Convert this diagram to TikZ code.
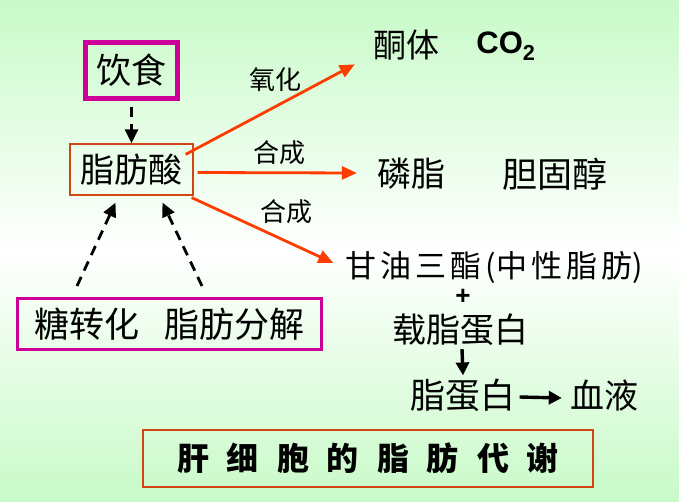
\documentclass[tikz,border=0pt]{standalone}
\usepackage{fontspec}
\newfontfamily\cjk{Noto Sans CJK SC}
\newfontfamily\lsans{Liberation Sans}
\usetikzlibrary{arrows.meta,calc}
\definecolor{bggreen}{RGB}{200,250,200}
\definecolor{mag}{RGB}{204,0,153}
\definecolor{redline}{RGB}{255,60,0}
\definecolor{boxred}{RGB}{210,70,20}
\newcommand\kgap{\hspace{4pt}}
\newcommand\tgap{\hspace{18pt}}
\tikzset{
  fs/.style={font=\cjk\fontsize{#1}{#1}\selectfont},
  plain/.style={inner sep=0pt},
  redarrow/.style={draw=redline, line width=2.8pt, -{Triangle[length=15pt,width=13pt]}},
  dasharrow/.style={draw=black, line width=2.8pt, dash pattern=on 10pt off 7pt, -{Triangle[length=14pt,width=13pt]}},
  blackarrow/.style={draw=black, line width=3.4pt, -{Triangle[length=13pt,width=13pt]}}
}
\begin{document}
\begin{tikzpicture}[x=1pt,y=-1pt]
\shade[top color=bggreen, bottom color=bggreen, middle color=white] (0,0) rectangle (679,502);
\useasboundingbox (0,0) rectangle (679,502);

% boxes
\node[draw=mag, line width=5pt, minimum width=92pt, minimum height=56pt, inner sep=0pt, fs=35] (diet) at (131.5,70.5) {饮食};
\node[draw=boxred, line width=1.2pt, minimum width=123pt, minimum height=51pt, inner sep=0pt, fs=34] (fa) at (131.5,169.5) {脂肪酸};
\node[draw=mag, line width=3pt, minimum width=304pt, minimum height=51pt, inner sep=0pt, fs=35] (src) at (169.5,324) {糖转化\hspace{26pt}脂肪分解};
\node[draw=boxred, line width=1.2pt, minimum width=450pt, minimum height=57pt, inner sep=0pt, font=\cjk\bfseries\fontsize{32}{32}\selectfont] (title) at (368,458.5)
  {肝\tgap 细\tgap 胞\tgap 的\tgap 脂\tgap 肪\tgap 代\tgap 谢};

% products
\node[plain, fs=33] (ketone) at (406,45) {酮体};
\node[plain, font=\lsans\bfseries\fontsize{31}{31}\selectfont] (co2) at (506,46) {CO\textsubscript{2}};
\node[plain, fs=34] (phos) at (411,174) {磷脂};
\node[plain, fs=35] (chol) at (555,174) {胆固醇};
\node[plain, fs=31] (tg) at (494,268) {甘\kgap 油\kgap 三\kgap 酯\kgap(中\kgap 性\kgap 脂\kgap 肪)};
\node[plain, font=\lsans\bfseries\fontsize{26}{26}\selectfont] (plus) at (463,297) {+};
\node[plain, fs=34] (apo) at (460,330) {载脂蛋白};
\node[plain, fs=35] (lp) at (463,395) {脂蛋白};
\node[plain, fs=34] (blood) at (604,396) {血液};

% labels
\node[plain, fs=26] (l1) at (275,80) {氧化};
\node[plain, fs=26] (l2) at (279,153) {合成};
\node[plain, fs=26] (l3) at (286,212) {合成};

% arrows
\draw[dasharrow] ($(diet.south)+(0,6)$) -- (fa.north);
\draw[dasharrow] ($(src.north west)+(61,-11)$) -- ($(fa.south)+(-16,7)$);
\draw[dasharrow] ($(src.north west)+(186,-11)$) -- ($(fa.south)+(31,7)$);

\draw[redarrow] ($(fa.north east)+(-8,11)$) -- ($(ketone.south west)+(-18,4)$);
\draw[redarrow] ($(fa.east)+(4,3)$) -- ($(phos.west)+(-20,-1)$);
\draw[redarrow] ($(fa.south east)+(-2,2)$) -- ($(tg.west)+(-12,-5)$);

\draw[blackarrow] ($(apo.south)+(2,3)$) -- ($(lp.north)+(0,-3)$);
\draw[blackarrow] ($(lp.east)+(4,2)$) -- ($(blood.west)+(-8,2)$);
\end{tikzpicture}
\end{document}
